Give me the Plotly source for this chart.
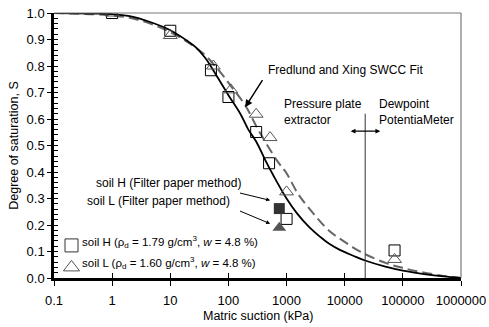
import math
import plotly.graph_objects as go

# ---- data ----
suction_H = [1, 10, 50, 100, 300, 500, 1000, 72000]
S_H = [1.0, 0.933, 0.784, 0.683, 0.551, 0.433, 0.223, 0.104]

suction_L = [1, 10, 55, 110, 300, 520, 1000, 72000]
S_L = [1.0, 0.915, 0.80, 0.71, 0.618, 0.53, 0.325, 0.07]

suction_fp = [750]
S_fp_H = [0.262]
S_fp_L = [0.19]

fit_H_x = [0.1, 0.5, 1, 2, 4.5, 10, 19, 27, 40, 60, 100, 160, 220, 300, 430, 600,
           1000, 1500, 2500, 3800, 5500, 8400, 14000, 22400, 50000, 100000,
           250000, 500000, 1000000]
fit_H_y = [1.0, 0.998, 0.996, 0.988, 0.966, 0.935, 0.897, 0.872, 0.83, 0.77, 0.69,
           0.62, 0.56, 0.515, 0.445, 0.385, 0.30, 0.245, 0.19, 0.155, 0.128, 0.105,
           0.084, 0.066, 0.043, 0.028, 0.014, 0.006, 0.0]

fit_L_x = [0.1, 0.5, 1, 2, 4.5, 10, 20, 40, 76, 114, 194, 330, 680, 1000, 1600,
           2900, 4500, 6400, 9000, 14000, 22400, 53000, 100000, 200000, 500000,
           1000000]
fit_L_y = [1.0, 0.995, 0.99, 0.982, 0.96, 0.928, 0.89, 0.84, 0.771, 0.72, 0.652,
           0.557, 0.444, 0.395, 0.315, 0.243, 0.195, 0.165, 0.143, 0.115, 0.09,
           0.055, 0.038, 0.023, 0.008, 0.0]

divider_x = [22500, 22500]
divider_y = [0.0, 0.62]

x_tickvals = [0.1, 1, 10, 100, 1000, 10000, 100000, 1000000]
x_ticktext = ["0.1", "1", "10", "100", "1000", "10000", "100000", "1000000"]

key_x = [0.2]
key_y_H = [0.123]
key_y_L = [0.04]

FONT = "Liberation Sans, Arial, sans-serif"
L = math.log10

fig = go.Figure()

fig.add_trace(go.Scatter(x=fit_L_x, y=fit_L_y, mode="lines", line_shape="spline",
                         line=dict(color="#666666", width=2, dash="10px,5px"),
                         showlegend=False, hoverinfo="skip"))
fig.add_trace(go.Scatter(x=fit_H_x, y=fit_H_y, mode="lines", line_shape="spline",
                         line=dict(color="black", width=1.8),
                         showlegend=False, hoverinfo="skip"))
fig.add_trace(go.Scatter(x=divider_x, y=divider_y, mode="lines",
                         line=dict(color="#333333", width=1), showlegend=False))

fig.add_trace(go.Scatter(x=suction_H, y=S_H, mode="markers",
                         marker=dict(symbol="square-open", size=11, color="black",
                                     line=dict(width=1)), showlegend=False))
fig.add_trace(go.Scatter(x=suction_L, y=S_L, mode="markers",
                         marker=dict(symbol="triangle-up-open", size=12, color="#555555",
                                     line=dict(width=1)), showlegend=False))
fig.add_trace(go.Scatter(x=suction_fp, y=S_fp_H, mode="markers",
                         marker=dict(symbol="square", size=11, color="#333333"),
                         showlegend=False))
fig.add_trace(go.Scatter(x=suction_fp, y=S_fp_L, mode="markers",
                         marker=dict(symbol="triangle-up", size=12, color="#555555"),
                         showlegend=False))

# legend-like keys
fig.add_trace(go.Scatter(x=key_x, y=key_y_H, mode="markers",
                         marker=dict(symbol="square-open", size=13, color="#333333",
                                     line=dict(width=1)), showlegend=False))
fig.add_trace(go.Scatter(x=key_x, y=key_y_L, mode="markers",
                         marker=dict(symbol="triangle-up-open", size=14, color="#555555",
                                     line=dict(width=1)), showlegend=False))
# empty trace so the overlay (inner tick) axes are drawn
fig.add_trace(go.Scatter(x=[], y=[], xaxis="x2", yaxis="y2", showlegend=False,
                         hoverinfo="skip"))

ann = []
tf = dict(family=FONT, size=12, color="black")
ann.append(dict(x=L(446), y=0.784, xref="x", yref="y", text="Fredlund and Xing SWCC Fit",
                showarrow=False, xanchor="left", yanchor="middle", font=tf))
ann.append(dict(x=L(194), y=0.644, ax=L(400), ay=0.752, xref="x", yref="y",
                axref="x", ayref="y", text="", showarrow=True, arrowhead=2,
                arrowsize=1, arrowwidth=1.5, arrowcolor="black"))
ann.append(dict(x=L(830), y=0.627, xref="x", yref="y", text="Pressure plate<br>extractor",
                showarrow=False, xanchor="left", yanchor="middle", align="left", font=tf))
ann.append(dict(x=L(36200), y=0.627, xref="x", yref="y", text="Dewpoint<br>PotentiaMeter",
                showarrow=False, xanchor="left", yanchor="middle", align="left", font=tf))
ann.append(dict(x=L(40800), y=0.554, ax=L(11940), ay=0.554, xref="x", yref="y",
                axref="x", ayref="y", text="", showarrow=True, arrowhead=2,
                arrowside="end+start", arrowsize=0.8, arrowwidth=1.2, arrowcolor="black"))
ann.append(dict(x=L(179), y=0.358, xref="x", yref="y", text="soil H (Filter paper method)",
                showarrow=False, xanchor="right", yanchor="middle", font=tf))
ann.append(dict(x=L(116), y=0.291, xref="x", yref="y", text="soil L (Filter paper method)",
                showarrow=False, xanchor="right", yanchor="middle", font=tf))
ann.append(dict(x=L(522), y=0.293, ax=L(149), ay=0.322, xref="x", yref="y",
                axref="x", ayref="y", text="", showarrow=True, arrowhead=2,
                arrowsize=0.8, arrowwidth=1, arrowcolor="black"))
ann.append(dict(x=L(522), y=0.205, ax=L(149), ay=0.255, xref="x", yref="y",
                axref="x", ayref="y", text="", showarrow=True, arrowhead=2,
                arrowsize=0.8, arrowwidth=1, arrowcolor="black"))
kf = dict(family=FONT, size=11.5, color="black")
ann.append(dict(x=L(0.28), y=0.136, xref="x", yref="y",
                text="soil H (ρ<sub>d</sub> = 1.79 g/cm<sup>3</sup>, <i>w</i> = 4.8 %)",
                showarrow=False, xanchor="left", yanchor="middle", font=kf))
ann.append(dict(x=L(0.28), y=0.058, xref="x", yref="y",
                text="soil L (ρ<sub>d</sub> = 1.60 g/cm<sup>3</sup>, <i>w</i> = 4.8 %)",
                showarrow=False, xanchor="left", yanchor="middle", font=kf))
# axis titles
ann.append(dict(x=0.5, y=-0.145, xref="paper", yref="paper", text="Matric suction (kPa)",
                showarrow=False, xanchor="center", yanchor="middle",
                font=dict(family=FONT, size=12.5, color="black")))
ann.append(dict(x=-0.1, y=0.5, xref="paper", yref="paper", text="Degree of saturation, S",
                showarrow=False, xanchor="center", yanchor="middle", textangle=-90,
                font=dict(family=FONT, size=12.5, color="black")))

fig.update_layout(
    width=489, height=327,
    margin=dict(l=54, r=28, t=13, b=49, autoexpand=False),
    paper_bgcolor="white", plot_bgcolor="white",
    font=dict(family=FONT, size=13, color="black"),
    annotations=ann,
    shapes=[
        dict(type="line", xref="paper", yref="paper", x0=0, x1=1, y0=1, y1=1,
             line=dict(color="#777777", width=1.2)),
        dict(type="line", xref="paper", yref="paper", x0=1, x1=1, y0=0, y1=1,
             line=dict(color="#777777", width=1.2)),
    ],
    xaxis2=dict(overlaying="x", anchor="y", side="bottom", type="log", range=[-1, 6],
                tickmode="array", tickvals=x_tickvals, ticks="inside", ticklen=5,
                tickwidth=1.2, tickcolor="black", showticklabels=False,
                showgrid=False, zeroline=False, showline=False, automargin=False),
    yaxis2=dict(overlaying="y", anchor="x", side="left", range=[0, 1.0],
                tickmode="linear", tick0=0, dtick=0.02, ticks="inside", ticklen=4,
                tickwidth=1, tickcolor="black", showticklabels=False,
                showgrid=False, zeroline=False, showline=False, automargin=False),
)
fig.update_xaxes(selector=dict(), overwrite=False)
fig.layout.xaxis.update(type="log", range=[-1, 6], tickvals=x_tickvals, ticktext=x_ticktext,
                        automargin=False,
                        showgrid=False, zeroline=False, showline=True, linecolor="black",
                        linewidth=2.5, ticks="outside", ticklen=5, tickwidth=1.2,
                        tickcolor="black", tickfont=dict(family=FONT, size=13),
                        ticklabelstandoff=4)
fig.layout.yaxis.update(range=[0, 1.0], tickmode="linear", tick0=0, dtick=0.1,
                        tickformat=".1f", showgrid=False,
                        automargin=False,
                        zeroline=False, showline=True, linecolor="black", linewidth=2.5,
                        ticks="outside", ticklen=4, tickwidth=1.2, tickcolor="black",
                        tickfont=dict(family=FONT, size=13), ticklabelstandoff=0)

# remove the default 8px page margin so the figure sits at the window's corner
fig.write_html("out.html", config={"displayModeBar": False},
               post_script="document.body.style.margin='0';document.body.style.overflow='hidden';")
